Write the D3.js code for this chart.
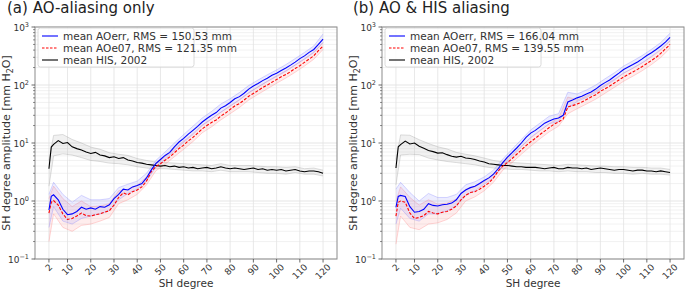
<!DOCTYPE html>
<html>
<head>
<meta charset="utf-8">
<script src="https://cdn.jsdelivr.net/npm/d3@7"></script>
<style>
  body { margin: 0; background: #fff; }
  svg { font-family: "DejaVu Sans", sans-serif; }
</style>
</head>
<body>
<svg id="chart" width="685" height="291"></svg>
<script>
// degrees of the mean curves, and coarser degrees for the ensemble spread
const degrees = [2, 3].concat(d3.range(4, 121, 2));
const envDegrees = [2].concat(d3.range(4, 121, 4));
const xTicks = [2, 10, 20, 30, 40, 50, 60, 70, 80, 90, 100, 110, 120];
const yTicks = [0.1, 1, 10, 100, 1000];
const yTickExp = ["\u22121", "0", "1", "2", "3"];

// (a) AO-aliasing only
const aoErrA = [0.70, 1.20, 1.28, 1.05, 0.72, 0.58, 0.60, 0.66, 0.78, 0.72, 0.76, 0.72, 0.80, 0.78, 0.86, 1.10,
  1.30, 1.60, 1.55, 1.75, 1.85, 2.00, 2.50, 3.40, 4.40, 5.20, 6.10, 6.90, 8.60, 10.4, 12.0, 14.2, 16.5, 19.3, 23.0,
  26.5, 30.0, 33.5, 40.0, 44.0, 50.0, 58.0, 63.0, 72.0, 85.0, 96.0, 106, 119, 131, 147, 160, 178, 197, 220, 248,
  285, 318, 365, 410, 500, 620];
const aoE07A = [0.62, 0.95, 1.02, 0.85, 0.60, 0.48, 0.50, 0.55, 0.62, 0.56, 0.55, 0.58, 0.60, 0.64, 0.68, 0.85,
  1.15, 1.38, 1.28, 1.45, 1.55, 1.75, 2.20, 3.20, 3.90, 4.40, 5.05, 5.75, 6.80, 8.05, 9.20, 10.9, 12.5, 14.8, 17.5,
  20.0, 22.6, 25.0, 29.2, 32.8, 38.0, 43.5, 47.8, 55.0, 64.0, 71.5, 80.0, 90.5, 99.5, 112, 124, 139, 151, 170, 193,
  215, 246, 280, 318, 390, 470];
const hisA = [3.6, 8.5, 9.5, 11.0, 9.8, 10.2, 8.6, 8.0, 7.6, 7.0, 6.6, 6.9, 6.2, 6.0, 5.6, 5.8, 5.4, 5.6, 5.1, 4.9,
  4.6, 4.5, 4.3, 4.2, 4.1, 4.0, 4.1, 3.9, 4.0, 3.8, 3.9, 3.7, 3.8, 3.6, 3.7, 3.8, 3.6, 3.7, 3.9, 3.7, 3.6, 3.7, 3.6,
  3.5, 3.6, 3.7, 3.5, 3.6, 3.4, 3.5, 3.4, 3.5, 3.3, 3.4, 3.5, 3.3, 3.2, 3.3, 3.3, 3.2, 3.0];

const aoErrLoA = [0.35, 0.80, 0.45, 0.40, 0.50, 0.55, 0.60, 0.68, 1.05, 1.35, 1.60, 2.20, 3.80, 5.20, 7.40, 10.3,
  14.0, 20.0, 26.0, 34.0, 43.0, 55.0, 73.0, 92.0, 115, 140, 172, 220, 280, 360, 540];
const aoErrHiA = [1.30, 2.10, 1.30, 0.95, 1.25, 1.05, 1.05, 1.10, 1.70, 1.95, 2.20, 3.00, 5.00, 7.00, 10.0, 14.0,
  19.5, 27.0, 35.0, 47.0, 58.0, 74.0, 98.0, 122, 150, 182, 225, 285, 365, 470, 760];
const aoE07LoA = [0.20, 0.60, 0.35, 0.30, 0.38, 0.40, 0.45, 0.52, 0.90, 1.05, 1.30, 1.90, 3.30, 4.30, 5.80, 7.80,
  10.6, 15.0, 19.0, 25.0, 32.0, 41.0, 55.0, 69.0, 86.0, 107, 132, 166, 212, 278, 410];
const aoE07HiA = [1.10, 1.80, 1.10, 0.80, 1.00, 0.80, 0.82, 0.90, 1.50, 1.60, 1.85, 2.60, 4.50, 5.80, 7.90, 10.8,
  14.6, 20.5, 26.0, 34.0, 44.0, 56.0, 74.0, 93.0, 116, 144, 176, 222, 282, 370, 540];
const hisLoA = [1.8, 6.0, 6.5, 6.2, 5.6, 5.0, 4.8, 4.5, 4.4, 4.2, 3.9, 3.7, 3.6, 3.6, 3.5, 3.4, 3.3, 3.3, 3.2, 3.4,
  3.2, 3.2, 3.2, 3.1, 3.0, 3.0, 2.9, 3.1, 2.9, 2.9, 2.7];
const hisHiA = [5.0, 13.5, 14.0, 11.5, 10.0, 8.5, 7.8, 6.8, 6.4, 6.1, 5.4, 5.0, 4.7, 4.6, 4.5, 4.4, 4.3, 4.2, 4.1,
  4.4, 4.1, 4.1, 4.1, 4.0, 3.9, 3.9, 3.8, 3.9, 3.6, 3.7, 3.4];

// (b) AO & HIS aliasing
const aoErrB = [0.78, 1.20, 1.25, 1.20, 0.80, 0.64, 0.66, 0.72, 0.90, 0.84, 0.82, 0.86, 0.88, 0.92, 1.05, 1.35,
  1.55, 1.70, 1.80, 2.00, 2.25, 2.50, 2.90, 3.60, 4.60, 5.70, 6.80, 8.20, 10.0, 12.5, 14.8, 16.5, 19.0, 22.0, 24.0,
  26.0, 27.0, 30.0, 51.0, 55.0, 60.0, 64.0, 70.0, 76.0, 85.0, 98.0, 110, 122, 140, 160, 185, 205, 225, 250, 282,
  322, 360, 410, 470, 550, 660];
const aoE07B = [0.55, 0.95, 1.00, 0.95, 0.62, 0.50, 0.52, 0.56, 0.66, 0.62, 0.60, 0.64, 0.66, 0.72, 0.82, 1.05,
  1.25, 1.40, 1.45, 1.60, 1.80, 2.05, 2.50, 3.30, 4.00, 4.60, 5.40, 6.40, 7.60, 9.00, 10.5, 12.0, 14.0, 16.0, 18.5,
  21.0, 23.0, 26.0, 42.0, 44.0, 47.0, 51.0, 56.0, 62.0, 68.0, 78.0, 86.0, 96.0, 108, 122, 138, 152, 168, 186, 208,
  235, 265, 300, 350, 420, 500];
const hisB = [3.7, 8.6, 9.4, 10.8, 9.6, 10.0, 8.8, 8.1, 7.4, 7.1, 6.7, 6.8, 6.3, 5.9, 5.7, 5.9, 5.5, 5.4, 5.2, 4.9,
  4.7, 4.4, 4.3, 4.2, 4.1, 4.1, 4.0, 3.9, 3.9, 3.8, 3.8, 3.8, 3.7, 3.6, 3.7, 3.8, 3.6, 3.6, 3.8, 3.7, 3.7, 3.6, 3.7,
  3.5, 3.6, 3.7, 3.6, 3.5, 3.4, 3.5, 3.5, 3.4, 3.3, 3.4, 3.4, 3.3, 3.3, 3.2, 3.3, 3.2, 3.1];

const aoErrLoB = [0.40, 0.75, 0.50, 0.45, 0.60, 0.60, 0.68, 0.82, 1.25, 1.50, 1.95, 2.50, 4.00, 5.90, 8.60, 12.5,
  16.5, 21.5, 23.5, 40.0, 52.0, 61.0, 74.0, 95.0, 121, 160, 195, 242, 312, 410, 580];
const aoErrHiB = [1.60, 2.10, 1.40, 1.00, 1.35, 1.15, 1.15, 1.30, 1.90, 2.15, 2.60, 3.40, 5.30, 7.80, 11.5, 16.8,
  22.0, 29.0, 32.0, 75.0, 70.0, 82.0, 100, 128, 162, 212, 260, 322, 412, 540, 780];
const aoE07LoB = [0.18, 0.55, 0.35, 0.32, 0.40, 0.42, 0.48, 0.62, 1.00, 1.18, 1.50, 2.10, 3.40, 4.60, 6.40, 8.80,
  11.8, 15.6, 19.5, 32.0, 39.0, 47.0, 57.0, 72.0, 91.0, 116, 142, 176, 225, 298, 430];
const aoE07HiB = [1.00, 1.75, 1.15, 0.85, 1.05, 0.88, 0.92, 1.08, 1.60, 1.75, 2.15, 2.90, 4.60, 6.30, 8.80, 12.2,
  16.2, 21.5, 27.0, 62.0, 55.0, 65.0, 79.0, 100, 126, 160, 195, 240, 305, 400, 580];
const hisLoB = [1.9, 6.2, 6.4, 6.3, 5.5, 5.1, 4.8, 4.6, 4.4, 4.2, 3.9, 3.7, 3.6, 3.5, 3.5, 3.4, 3.3, 3.3, 3.2, 3.3,
  3.2, 3.2, 3.1, 3.1, 3.0, 3.0, 2.9, 3.0, 2.9, 2.9, 2.8];
const hisHiB = [5.2, 13.8, 13.6, 11.4, 9.8, 8.6, 7.9, 6.9, 6.4, 6.0, 5.5, 5.0, 4.7, 4.6, 4.5, 4.4, 4.3, 4.2, 4.1,
  4.3, 4.2, 4.1, 4.0, 4.0, 3.9, 3.9, 3.8, 3.8, 3.7, 3.7, 3.5];

const panels = [
  {title: "(a) AO-aliasing only", titleX: 7, left: 35, right: 337, ylabX: 10,
   rmsErr: "150.53", rmsE07: "121.35",
   series: [
     {mean: hisA, lo: hisLoA, hi: hisHiA, color: "black", faint: "#9a9a9a", dash: null},
     {mean: aoE07A, lo: aoE07LoA, hi: aoE07HiA, color: "red", faint: "#ff8080", dash: "3,1.6"},
     {mean: aoErrA, lo: aoErrLoA, hi: aoErrHiA, color: "blue", faint: "#8080ff", dash: null}
   ]},
  {title: "(b) AO & HIS aliasing", titleX: 353, left: 382, right: 684, ylabX: 357,
   rmsErr: "166.04", rmsE07: "139.55",
   series: [
     {mean: hisB, lo: hisLoB, hi: hisHiB, color: "black", faint: "#9a9a9a", dash: null},
     {mean: aoE07B, lo: aoE07LoB, hi: aoE07HiB, color: "red", faint: "#ff8080", dash: "3,1.6"},
     {mean: aoErrB, lo: aoErrLoB, hi: aoErrHiB, color: "blue", faint: "#8080ff", dash: null}
   ]}
];

const plotTop = 27, plotBottom = 259;
const svg = d3.select("#chart");

panels.forEach(function (p) {
  let x = d3.scaleLinear().domain([-4, 126]).range([p.left, p.right]);
  let y = d3.scaleLog().domain([0.1, 1000]).range([plotBottom, plotTop]);
  let g = svg.append("g");

  // minor horizontal grid
  let minor = [];
  [0.1, 1, 10, 100].forEach(function (d) {
    for (let k = 2; k <= 9; k++) minor.push(d * k);
  });
  g.selectAll(".minor").data(minor).enter().append("line")
    .attr("x1", p.left).attr("x2", p.right)
    .attr("y1", d => y(d)).attr("y2", d => y(d))
    .attr("stroke", "#ececec").attr("stroke-width", 0.7);
  // major grid
  g.selectAll(".gy").data(yTicks).enter().append("line")
    .attr("x1", p.left).attr("x2", p.right)
    .attr("y1", d => y(d)).attr("y2", d => y(d))
    .attr("stroke", "#dedede").attr("stroke-width", 0.8);
  g.selectAll(".gx").data(xTicks).enter().append("line")
    .attr("x1", d => x(d)).attr("x2", d => x(d))
    .attr("y1", plotTop).attr("y2", plotBottom)
    .attr("stroke", "#e2e2e2").attr("stroke-width", 0.8);

  let line = d3.line().x((d, i) => x(degrees[i])).y(d => y(d));
  let envLine = d3.line().x((d, i) => x(envDegrees[i])).y(d => y(d));
  let band = d3.area().x((d, i) => x(envDegrees[i]))
    .y0(d => y(d[0])).y1(d => y(d[1]));

  // ensemble spread (faint)
  p.series.forEach(function (s) {
    g.append("path").datum(s.lo.map((v, i) => [v, s.hi[i]]))
      .attr("d", band).attr("fill", s.faint).attr("opacity", 0.14);
    [s.lo, s.hi].forEach(function (arr) {
      g.append("path").datum(arr).attr("d", envLine)
        .attr("fill", "none").attr("stroke", s.faint)
        .attr("stroke-width", 0.6).attr("opacity", 0.55);
    });
  });
  // means
  p.series.forEach(function (s) {
    g.append("path").datum(s.mean).attr("d", line)
      .attr("fill", "none").attr("stroke", s.color)
      .attr("stroke-width", 1.1)
      .attr("stroke-dasharray", s.dash);
  });

  // frame
  g.append("rect").attr("x", p.left).attr("y", plotTop)
    .attr("width", p.right - p.left).attr("height", plotBottom - plotTop)
    .attr("fill", "none").attr("stroke", "#8c8c8c").attr("stroke-width", 1);

  // y ticks
  g.selectAll(".yt").data(yTicks).enter().append("line")
    .attr("x1", p.left - 3.5).attr("x2", p.left)
    .attr("y1", d => y(d)).attr("y2", d => y(d))
    .attr("stroke", "#444").attr("stroke-width", 0.8);
  g.selectAll(".ymt").data(minor).enter().append("line")
    .attr("x1", p.left - 2).attr("x2", p.left)
    .attr("y1", d => y(d)).attr("y2", d => y(d))
    .attr("stroke", "#444").attr("stroke-width", 0.6);
  let yl = g.selectAll(".yl").data(yTicks).enter().append("text")
    .attr("x", p.left - 6).attr("y", d => y(d) + 3.5)
    .attr("text-anchor", "end").attr("font-size", 9).attr("fill", "#333");
  yl.append("tspan").text("10");
  yl.append("tspan").attr("dy", -4).attr("font-size", 6.5).text((d, i) => yTickExp[i]);

  // x ticks
  g.selectAll(".xt").data(xTicks).enter().append("line")
    .attr("x1", d => x(d)).attr("x2", d => x(d))
    .attr("y1", plotBottom).attr("y2", plotBottom + 3.5)
    .attr("stroke", "#444").attr("stroke-width", 0.8);
  g.selectAll(".xl").data(xTicks).enter().append("text")
    .attr("font-size", 9).attr("fill", "#333")
    .attr("text-anchor", "middle").attr("dominant-baseline", "central")
    .text(d => d)
    .each(function (d) {
      let w = this.getComputedTextLength();
      let cy = plotBottom + 4 + (w + 7) / (2 * Math.SQRT2);
      d3.select(this).attr("transform", "translate(" + x(d) + "," + cy + ") rotate(-45)");
    });

  // labels
  svg.append("text").attr("x", (p.left + p.right) / 2).attr("y", 287)
    .attr("text-anchor", "middle").attr("font-size", 10.5).attr("fill", "#333")
    .text("SH degree");
  let ylab = svg.append("text")
    .attr("transform", "translate(" + p.ylabX + "," + ((plotTop + plotBottom) / 2) + ") rotate(-90)")
    .attr("text-anchor", "middle").attr("font-size", 11).attr("fill", "#333");
  ylab.append("tspan").text("SH degree amplitude [mm H");
  ylab.append("tspan").attr("dy", 2.5).attr("font-size", 8).text("2");
  ylab.append("tspan").attr("dy", -2.5).text("O]");

  svg.append("text").attr("x", p.titleX).attr("y", 12.5)
    .attr("font-size", 15).attr("fill", "#222").text(p.title);

  // legend
  let lg = svg.append("g").attr("transform", "translate(" + (p.left + 3) + "," + (plotTop + 1) + ")");
  lg.append("rect").attr("width", 156).attr("height", 39).attr("rx", 2.5)
    .attr("fill", "white").attr("fill-opacity", 0.85)
    .attr("stroke", "#d0d0d0").attr("stroke-width", 0.8);
  let entries = [
    {label: "mean AOerr, RMS = " + p.rmsErr + " mm", color: "blue", dash: null},
    {label: "mean AOe07, RMS = " + p.rmsE07 + " mm", color: "red", dash: "2.5,1.5"},
    {label: "mean HIS, 2002", color: "black", dash: null}
  ];
  entries.forEach(function (e, i) {
    let ly = 8 + i * 12;
    lg.append("line").attr("x1", 4).attr("x2", 20).attr("y1", ly).attr("y2", ly)
      .attr("stroke", e.color).attr("stroke-width", 1.1).attr("stroke-dasharray", e.dash);
    lg.append("text").attr("x", 25).attr("y", ly + 3.6)
      .attr("font-size", 10.5).attr("fill", "#333").text(e.label);
  });
});
</script>
</body>
</html>
